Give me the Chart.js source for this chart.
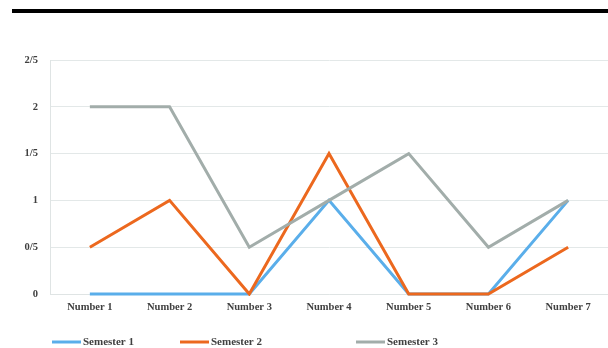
<!DOCTYPE html>
<html lang="en">
  <head>
    <meta charset="UTF-8" />
    <title>Semesters</title>
    <style>
      body { margin: 0; background: #fff; }
      #wrap { position: relative; width: 608px; height: 348px; }
      #topbar { position: absolute; left: 12px; top: 9px; width: 596px; height: 4px; background: #000; }
    </style>
  </head>
  <body>
    <script src="https://cdn.jsdelivr.net/npm/chart.js"></script>
    <div id="wrap">
      <div id="topbar"></div>
      <canvas id="myChart" width="608" height="348"></canvas>
    </div>
    <script>
      const categories = ["Number 1", "Number 2", "Number 3", "Number 4", "Number 5", "Number 6", "Number 7"];
      const semester1 = [0, 0, 0, 1, 0, 0, 1];
      const semester2 = [0.5, 1, 0, 1.5, 0, 0, 0.5];
      const semester3 = [2, 2, 0.5, 1, 1.5, 0.5, 1];
      const seriesNames = ["Semester 1", "Semester 2", "Semester 3"];
      const colors = ["#5aaeea", "#ec681e", "#a2adaa"];

      const tickFont = { family: "Liberation Serif", size: 10.5, weight: "bold" };

      // legend drawn by hand, items are unevenly spaced in the original
      const legendX = [52, 180, 356];
      const bottomLegend = {
        id: "bottomLegend",
        afterDraw(chart) {
          const ctx = chart.ctx;
          ctx.save();
          ctx.font = "bold 11px 'Liberation Serif'";
          ctx.textBaseline = "middle";
          chart.data.datasets.forEach((ds, i) => {
            const x = legendX[i];
            const y = 342;
            ctx.strokeStyle = ds.borderColor;
            ctx.lineWidth = 3;
            ctx.beginPath();
            ctx.moveTo(x, y);
            ctx.lineTo(x + 29, y);
            ctx.stroke();
            ctx.fillStyle = "#404040";
            ctx.fillText(ds.label, x + 31, y);
          });
          ctx.restore();
        },
      };

      new Chart("myChart", {
        type: "line",
        data: {
          labels: categories,
          datasets: [semester1, semester2, semester3].map((series, i) => ({
            label: seriesNames[i],
            data: series,
            borderColor: colors[i],
            backgroundColor: colors[i],
            borderWidth: 3,
            pointRadius: 0,
            tension: 0,
            clip: 2,
            order: 3 - i,
          })),
        },
        options: {
          responsive: false,
          animation: false,
          layout: { padding: { top: 60, right: 0, left: 0, bottom: 0 } },
          plugins: {
            legend: { display: false },
            tooltip: { enabled: false },
          },
          scales: {
            x: {
              offset: true,
              grid: { display: false, drawTicks: false, offset: true },
              border: { color: "#dfe4e4", width: 1 },
              ticks: { font: tickFont, color: "#404040", padding: 7, maxRotation: 0 },
              afterFit(scale) { scale.height = 54; },
            },
            y: {
              min: 0,
              max: 2.5,
              grid: { color: "#e3e8e8", drawTicks: false },
              border: { color: "#dfe4e4", width: 1 },
              ticks: {
                stepSize: 0.5,
                font: tickFont,
                color: "#404040",
                padding: 12,
                callback: (v) => String(v).replace(".", "/"),
              },
              afterFit(scale) { scale.width = 50; },
            },
          },
        },
        plugins: [bottomLegend],
      });
    </script>
  </body>
</html>
